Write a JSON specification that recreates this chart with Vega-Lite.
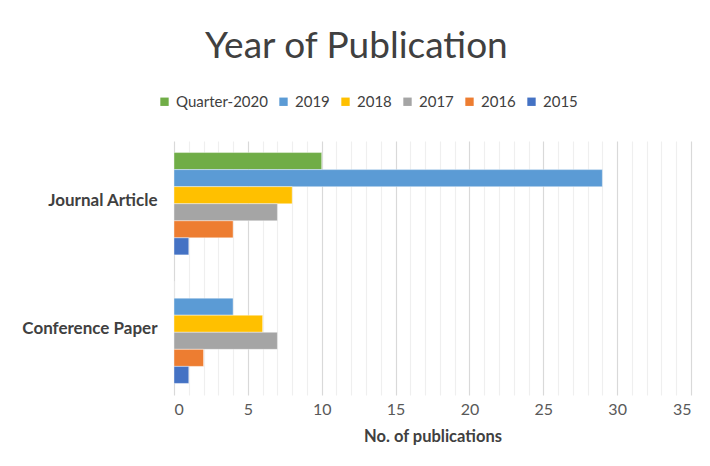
{
  "$schema": "https://vega.github.io/schema/vega-lite/v6.json",
  "width": 517,
  "height": 254,
  "autosize": {"type": "none"},
  "padding": {"left": 174, "top": 141, "right": 19, "bottom": 71},
  "background": "white",
  "title": {
    "text": "Year of Publication",
    "anchor": "middle",
    "frame": "bounds",
    "font": "Lato",
    "fontSize": 37,
    "fontWeight": "normal",
    "color": "#404040",
    "offset": 28
  },
  "data": {
    "values": [
      {"type": "Journal Article", "year": "Quarter-2020", "count": 10},
      {"type": "Journal Article", "year": "2019", "count": 29},
      {"type": "Journal Article", "year": "2018", "count": 8},
      {"type": "Journal Article", "year": "2017", "count": 7},
      {"type": "Journal Article", "year": "2016", "count": 4},
      {"type": "Journal Article", "year": "2015", "count": 1},
      {"type": "Conference Paper", "year": "Quarter-2020", "count": 0},
      {"type": "Conference Paper", "year": "2019", "count": 4},
      {"type": "Conference Paper", "year": "2018", "count": 6},
      {"type": "Conference Paper", "year": "2017", "count": 7},
      {"type": "Conference Paper", "year": "2016", "count": 2},
      {"type": "Conference Paper", "year": "2015", "count": 1}
    ]
  },
  "mark": {"type": "bar", "stroke": "white", "strokeWidth": 0.8, "strokeOpacity": 0.5},
  "encoding": {
    "y": {
      "field": "type",
      "type": "nominal",
      "scale": {"domain": ["Journal Article", "Conference Paper"], "paddingInner": 0.204, "paddingOuter": 0.09},
      "axis": {
        "title": null,
        "ticks": false,
        "domain": false,
        "labelFont": "Lato",
        "labelFontSize": 17,
        "labelFontWeight": "bold",
        "labelColor": "#404040",
        "labelPadding": 17,
        "labelOffset": -3
      }
    },
    "yOffset": {
      "field": "year",
      "type": "nominal",
      "scale": {"domain": ["Quarter-2020", "2019", "2018", "2017", "2016", "2015"], "paddingInner": 0, "paddingOuter": 0}
    },
    "x": {
      "field": "count",
      "type": "quantitative",
      "scale": {"domain": [0, 35], "nice": false},
      "axis": {
        "title": "No. of publications",
        "titleFont": "Lato",
        "titleFontSize": 16.5,
        "titleFontWeight": "bold",
        "titleColor": "#404040",
        "titlePadding": 11,
        "values": [0,1,2,3,4,5,6,7,8,9,10,11,12,13,14,15,16,17,18,19,20,21,22,23,24,25,26,27,28,29,30,31,32,33,34,35],
        "labelExpr": "datum.value % 5 === 0 ? datum.label : ''",
        "labelFont": "Lato",
        "labelFontSize": 16,
        "labelColor": "#595959",
        "labelPadding": 6,
        "ticks": false,
        "domain": false,
        "grid": true,
        "gridColor": {"condition": {"test": "datum.value % 5 === 0", "value": "#d9d9d9"}, "value": "#efefef"},
        "gridWidth": 1.2
      }
    },
    "color": {
      "field": "year",
      "type": "nominal",
      "scale": {
        "domain": ["Quarter-2020", "2019", "2018", "2017", "2016", "2015"],
        "range": ["#70AD47", "#5B9BD5", "#FFC000", "#A5A5A5", "#ED7D31", "#4472C4"]
      },
      "legend": {
        "title": null,
        "orient": "none",
        "direction": "horizontal",
        "legendX": -17,
        "legendY": -47,
        "symbolType": "square",
        "symbolSize": 70,
        "symbolStrokeWidth": 0,
        "labelFont": "Lato",
        "labelFontSize": 15,
        "labelColor": "#404040",
        "columnPadding": 8,
        "labelOffset": 4
      }
    }
  },
  "config": {"view": {"stroke": null}}
}
